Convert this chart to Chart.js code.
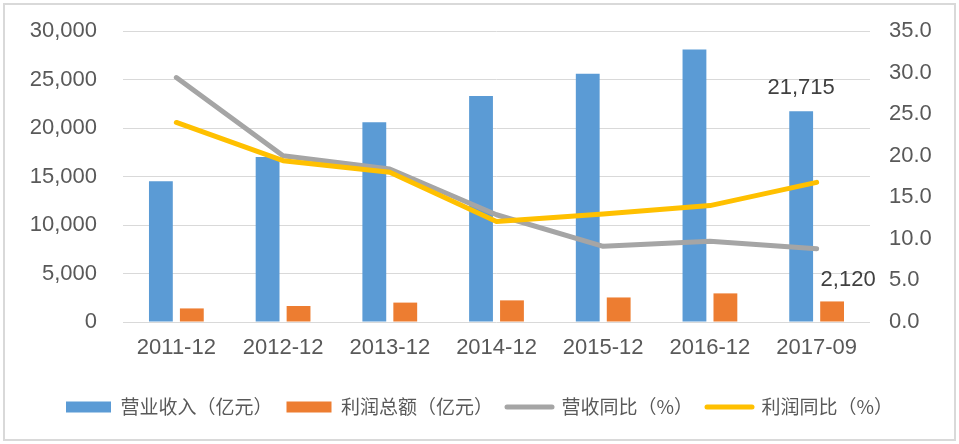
<!DOCTYPE html>
<html>
<head>
<meta charset="utf-8">
<script src="https://cdn.jsdelivr.net/npm/chart.js@4.4.0/dist/chart.umd.min.js"></script>
<style>
  html, body { margin: 0; padding: 0; background: #fff; }
  #wrap { position: relative; width: 959px; height: 444px; }
  #frame { position: absolute; left: 3px; top: 3px; width: 949px; height: 434px; border: 2px solid #d9d9d9; pointer-events: none; }
</style>
</head>
<body>
<div id="wrap">
  <canvas id="revenueChart" width="959" height="444"></canvas>
  <div id="frame"></div>
</div>
<script>
// data
const periods = ["2011-12", "2012-12", "2013-12", "2014-12", "2015-12", "2016-12", "2017-09"];
const revenue = [14500, 17000, 20600, 23300, 25600, 28100, 21715];   // 营业收入(亿元)
const profit = [1400, 1650, 2000, 2230, 2530, 2950, 2120];           // 利润总额(亿元)
const revenueYoY = [29.4, 20.0, 18.4, 12.9, 9.1, 9.7, 8.8];          // 营收同比(%)
const profitYoY = [24.0, 19.4, 18.0, 12.1, 13.0, 14.0, 16.8];        // 利润同比(%)

const tickFont = { family: "'Liberation Sans', Arial, sans-serif", size: 22 };
const legendFont = { family: "'Noto Sans CJK SC', sans-serif", size: 19 };

// value labels for the last period, as in the reference
const lastLabels = {
  id: "lastLabels",
  afterDatasetsDraw(chart) {
    const ctx = chart.ctx;
    const last = periods.length - 1;
    const blue = chart.getDatasetMeta(0).data[last];
    const orange = chart.getDatasetMeta(1).data[last];
    ctx.save();
    ctx.font = "22px 'Liberation Sans', Arial, sans-serif";
    ctx.fillStyle = "#404040";
    ctx.textAlign = "center";
    ctx.textBaseline = "alphabetic";
    ctx.fillText(revenue[last].toLocaleString("en-US"), blue.x, blue.y - 17);
    ctx.fillText(profit[last].toLocaleString("en-US"), orange.x + 16, orange.y - 15);
    ctx.restore();
  }
};

// fixed axis widths, and no extra label padding above/below the value axes
function fixWidth(w) {
  return scale => {
    scale.width = w;
    scale.paddingTop = 0;
    scale.paddingBottom = 0;
  };
}

const ctx = document.getElementById("revenueChart");
new Chart(ctx, {
  type: "bar",
  data: {
    labels: periods,
    datasets: [
      {
        label: "营业收入（亿元）",
        data: revenue,
        backgroundColor: "#5B9BD5",
        yAxisID: "y",
        order: 2,
        categoryPercentage: 0.58,
        barPercentage: 0.77
      },
      {
        label: "利润总额（亿元）",
        data: profit,
        backgroundColor: "#ED7D31",
        yAxisID: "y",
        order: 2,
        categoryPercentage: 0.58,
        barPercentage: 0.77
      },
      {
        type: "line",
        label: "营收同比（%）",
        data: revenueYoY,
        borderColor: "#A5A5A5",
        backgroundColor: "#A5A5A5",
        borderWidth: 5,
        borderJoinStyle: "round",
        borderCapStyle: "round",
        pointRadius: 0,
        tension: 0,
        yAxisID: "y1",
        order: 1
      },
      {
        type: "line",
        label: "利润同比（%）",
        data: profitYoY,
        borderColor: "#FFC000",
        backgroundColor: "#FFC000",
        borderWidth: 5,
        borderJoinStyle: "round",
        borderCapStyle: "round",
        pointRadius: 0,
        tension: 0,
        yAxisID: "y1",
        order: 0
      }
    ]
  },
  options: {
    responsive: false,
    animation: false,
    layout: { padding: { top: 31, left: 0, right: 0, bottom: 17.5 } },
    scales: {
      x: {
        grid: { display: false, drawTicks: false },
        border: { display: false },
        ticks: { color: "#595959", font: tickFont, padding: 13, maxRotation: 0 },
        afterFit(scale) { scale.height = 61.5; }
      },
      y: {
        position: "left",
        min: 0,
        max: 30000,
        grid: { color: "#D9D9D9", lineWidth: 1, drawTicks: false },
        border: { display: false },
        ticks: {
          stepSize: 5000,
          color: "#595959",
          font: tickFont,
          padding: 26,
          callback: v => v.toLocaleString("en-US")
        },
        afterFit: fixWidth(123)
      },
      y1: {
        position: "right",
        min: 0,
        max: 35,
        grid: { display: false, drawTicks: false },
        border: { display: false },
        ticks: {
          stepSize: 5,
          color: "#595959",
          font: tickFont,
          padding: 19,
          callback: v => v.toFixed(1)
        },
        afterFit: fixWidth(89)
      }
    },
    plugins: {
      tooltip: { enabled: false },
      legend: {
        position: "bottom",
        labels: {
          color: "#595959",
          font: legendFont,
          usePointStyle: true,
          pointStyleWidth: 45,
          boxHeight: 11,
          padding: 14,
          generateLabels(chart) {
            const items = Chart.defaults.plugins.legend.labels.generateLabels(chart);
            items.forEach(it => {
              const ds = chart.data.datasets[it.datasetIndex];
              if (ds.type === "line") {
                it.pointStyle = "line";
                it.lineWidth = 5;
                it.lineCap = "round";
                it.strokeStyle = ds.borderColor;
              } else {
                it.pointStyle = "rect";
                it.lineWidth = 0;
                it.fillStyle = ds.backgroundColor;
              }
            });
            return items.sort((a, b) => a.datasetIndex - b.datasetIndex);
          }
        }
      }
    }
  },
  plugins: [lastLabels]
});
</script>
</body>
</html>
